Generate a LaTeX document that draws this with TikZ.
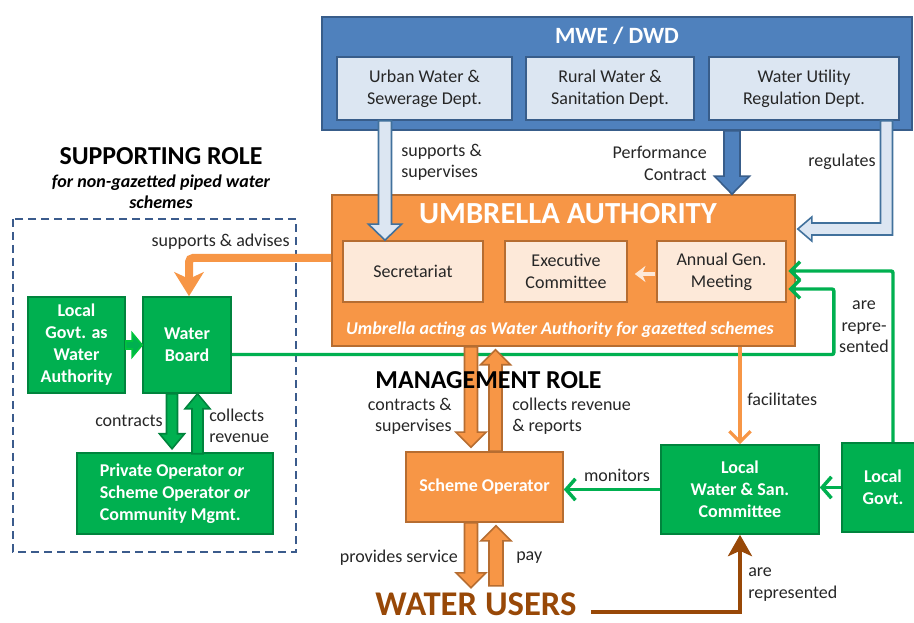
\documentclass[tikz,border=0pt]{standalone}
\usepackage{fontspec}
\setmainfont{Carlito}
\usetikzlibrary{calc,arrows.meta}
\definecolor{mweblue}{HTML}{4F81BD}
\definecolor{mweborder}{HTML}{385D8A}
\definecolor{lightblue}{HTML}{DCE6F2}
\definecolor{hollowborder}{HTML}{41719C}
\definecolor{uaorange}{HTML}{F79646}
\definecolor{uaborder}{HTML}{B66D31}
\definecolor{peach}{HTML}{FDE9D9}
\definecolor{grn}{HTML}{00B050}
\definecolor{grnborder}{HTML}{00843D}
\definecolor{brn}{HTML}{984807}
\definecolor{dashblue}{HTML}{3B5B8C}
\definecolor{txt}{HTML}{262626}
\newcommand\lblfont{\fontsize{13.5}{16}\selectfont}
\newcommand\boxfont{\fontsize{13.5}{16.5}\selectfont}
% block arrow: [style]{from}{to}{half shaft}{half head}{head length}
\newcommand\blockarrow[6][]{%
  \coordinate (bahead) at ($(#3)!#6!(#2)$);
  \draw[#1] ($(#2)!#4!90:(#3)$) -- ($(bahead)!#4!90:(#3)$) -- ($(bahead)!#5!90:(#3)$) -- (#3) -- ($(bahead)!#5!-90:(#3)$) -- ($(bahead)!#4!-90:(#3)$) -- ($(#2)!#4!-90:(#3)$) -- cycle;
}
\begin{document}
\begin{tikzpicture}[x=0.75pt,y=-0.75pt,
  mwebox/.style={draw=mweborder, fill=mweblue, line width=1.2pt, inner sep=0pt},
  dept/.style={draw=mweborder, fill=lightblue, line width=1.2pt, inner sep=0pt, minimum height=47.25pt, font=\boxfont, text=txt, align=center},
  uabox/.style={draw=uaborder, fill=uaorange, line width=1.2pt, inner sep=0pt},
  innerbox/.style={draw=uaborder, fill=peach, line width=1.2pt, inner sep=0pt, minimum height=45.75pt, font=\boxfont, text=txt, align=center},
  gbox/.style={draw=grnborder, fill=grn, line width=1.2pt, inner sep=0pt, text=white, font=\bfseries\boxfont, align=center},
  obox/.style={draw=uaborder, fill=uaorange, line width=1.2pt, inner sep=0pt, text=white, font=\bfseries\boxfont, align=center},
  lbl/.style={text=txt, font=\lblfont, inner sep=0pt, align=center},
  hollowarrow/.style={draw=hollowborder, fill=lightblue, line width=1.2pt, line join=miter},
  bluearrow/.style={draw=mweborder, fill=mweblue, line width=1.2pt},
  orangearrow/.style={draw=uaborder, fill=uaorange, line width=1.2pt},
  greenarrow/.style={draw=grnborder, fill=grn, line width=1.2pt},
  gline/.style={draw=grn, line width=2.6pt, rounded corners=1.5pt},
]
\useasboundingbox (0,0) rectangle (914,623);

% dashed supporting-role frame
\draw[dashblue, line width=1.2pt, dash pattern=on 6pt off 3.75pt] (13,219) rectangle (296,552);

% MWE / DWD
\node[mwebox, minimum width=442.5pt, minimum height=84.75pt] (mwe) at (617,73.5) {};
\node[text=white, font=\bfseries\fontsize{17.5}{20}\selectfont, inner sep=0pt] (mwet) at (617,36) {MWE / DWD};
\node[dept, minimum width=131.25pt] (urban) at (424.5,88.5) {Urban Water \&\\Sewerage Dept.};
\node[dept, minimum width=126pt] (rural) at (610,88.5) {Rural Water \&\\Sanitation Dept.};
\node[dept, minimum width=142.5pt] (wur) at (804,88.5) {Water Utility\\Regulation Dept.};

% Umbrella authority
\node[uabox, minimum width=347.25pt, minimum height=113.25pt] (ua) at (563.5,270.5) {};
\node[text=white, font=\bfseries\fontsize{23}{26}\selectfont, inner sep=0pt] (uat) at (568,214) {UMBRELLA AUTHORITY};
\node[innerbox, minimum width=105pt] (sec) at (413,271.5) {Secretariat};
\node[innerbox, minimum width=91.5pt] (exe) at (566,271.5) {Executive\\Committee};
\node[innerbox, minimum width=96.75pt] (agm) at (721.5,271.5) {Annual Gen.\\Meeting};
\node[text=white, font=\bfseries\itshape\lblfont, inner sep=0pt] (uai) at (560,330) {Umbrella acting as Water Authority for gazetted schemes};

% green / orange boxes
\node[gbox, minimum width=72.75pt, minimum height=72pt] (lgwa) at (76.5,345) {Local\\Govt. as\\Water\\Authority};
\node[gbox, minimum width=66pt, minimum height=72pt] (wb) at (187,345) {Water\\Board};
\node[gbox, minimum width=147pt, minimum height=60.75pt, align=left] (po) at (175,493.5) {Private Operator \textit{or}\\Scheme Operator \textit{or}\\Community Mgmt.};
\node[obox, minimum width=117.75pt, minimum height=52.5pt] (so) at (484.5,487) {Scheme Operator};
\node[gbox, minimum width=118.5pt, minimum height=66.75pt] (lwsc) at (740,489.5) {Local\\Water \& San.\\Committee};
\node[gbox, minimum width=61.5pt, minimum height=66.75pt] (lg) at (883,487.5) {Local\\Govt.};
\node[font=\bfseries\fontsize{26}{30}\selectfont, text=brn, inner sep=0pt] (wu) at (476,604) {WATER USERS};

% ---- connectors ----
% MWE -> Umbrella
\coordinate (h1b) at ($(sec.north)+(-28,0)$);
\coordinate (h1a) at (h1b |- urban.south);
\blockarrow[hollowarrow]{h1a}{h1b}{4.9pt}{12.4pt}{12pt}
\coordinate (p1b) at ($(ua.north)+(168.5,0)$);
\coordinate (p1a) at (p1b |- mwe.south);
\blockarrow[bluearrow]{p1a}{p1b}{6pt}{13.1pt}{13.5pt}
\coordinate (regS) at ($(wur.south)+(82.5,0)$);
\coordinate (regE) at ($(ua.east)+(2,-41.5)$);
\draw[hollowarrow] let \p1=(regS), \p2=(regE) in
  (\x1-4.5pt,\y1) -- (\x1-4.5pt,\y2+4.5pt) -- (\x2+10.5pt,\y2+4.5pt) -- (\x2+10.5pt,\y2+9pt) -- (\x2,\y2)
  -- (\x2+10.5pt,\y2-9pt) -- (\x2+10.5pt,\y2-4.5pt) -- (\x1+4.5pt,\y2-4.5pt) -- (\x1+4.5pt,\y1) -- cycle;

% inside umbrella
\draw[peach, line width=3pt, -{Stealth[length=8pt,width=12pt,inset=2.5pt]}] ($(agm.west)+(-1,2.5)$) -- ($(exe.east)+(7,2.5)$);

% green representation lines
\draw[gline, -{Straight Barb[length=7pt,width=14pt]}] ($(wb.east)+(0,9.5)$) -| ($(agm.east)+(47,17.5)$) -- ($(agm.east)+(1.5,17.5)$);
\draw[gline, -{Straight Barb[length=7pt,width=14pt]}] ($(lg.north)+(10,0)$) |- ($(agm.east)+(1.5,-0.5)$);
\draw[draw=grn, line width=2.6pt, -{Straight Barb[length=7pt,width=16pt]}] (lwsc.west) -- (lwsc.west -| so.east);
\draw[draw=grn, line width=2.6pt, -{Straight Barb[length=7pt,width=16pt]}] (lg.west) -- (lg.west -| lwsc.east);

% supports & advises
\draw[uaorange, line width=6pt, rounded corners=3pt, -{Stealth[length=18pt,width=22pt,inset=5pt]}] ($(ua.west)+(0,-12.5)$) -| ($(wb.north)+(2,0)$);

% left block arrows
\blockarrow[greenarrow, draw=green!25!grn]{lgwa.east}{wb.west}{3pt}{9pt}{7.5pt}
\coordinate (c1a) at ($(wb.south)+(-15,0)$);
\coordinate (c1b) at ($(wb.south)+(-15,55)$);
\blockarrow[greenarrow]{c1a}{c1b}{4.1pt}{9.4pt}{11.25pt}
\coordinate (c2a) at ($(wb.south)+(10.5,60)$);
\coordinate (c2b) at ($(wb.south)+(10.5,0)$);
\blockarrow[greenarrow]{c2a}{c2b}{4.1pt}{9.4pt}{11.25pt}

% management arrows
\coordinate (m1b) at ($(so.north)+(-13.5,-4)$);
\coordinate (m1a) at (m1b |- ua.south);
\blockarrow[orangearrow]{m1a}{m1b}{4.9pt}{11.25pt}{11.25pt}
\coordinate (m2a) at ($(so.north)+(11,0)$);
\coordinate (m2b) at ($(m2a |- ua.south)+(0,3)$);
\blockarrow[orangearrow]{m2a}{m2b}{4.9pt}{11.25pt}{11.25pt}
\coordinate (w1a) at ($(so.south)+(-13.5,0)$);
\coordinate (w1b) at ($(so.south)+(-13.5,65)$);
\blockarrow[orangearrow]{w1a}{w1b}{4.9pt}{11.25pt}{11.25pt}
\coordinate (w2a) at ($(so.south)+(11.5,63)$);
\coordinate (w2b) at ($(so.south)+(11.5,3)$);
\blockarrow[orangearrow]{w2a}{w2b}{5.25pt}{11.25pt}{11.25pt}

% facilitates
\draw[uaorange, line width=2.4pt, -{Straight Barb[length=8pt,width=16pt]}] (ua.south -| lwsc.north) -- (lwsc.north);
% water users are represented
\draw[brn, line width=3pt, -{Stealth[length=16pt,width=18pt,inset=4pt]}] ([shift={(14,8)}]wu.east) -| (lwsc.south);

% ---- labels ----
\node[lbl, anchor=west, align=left] (lsup) at (401,162.5) {supports \&\\supervises};
\node[lbl, anchor=east, align=right] (lperf) at (707,163.5) {Performance\\Contract};
\node[lbl] (lreg) at (842,162) {regulates};
\node[lbl, anchor=east] (ladv) at (290,242) {supports \& advises};
\node[lbl] (lrep) at (864,327) {are\\repre-\\sented};
\node[lbl, anchor=east, align=right] (lcon) at (163,421) {contracts};
\node[lbl, anchor=west, align=left] (lcol) at (209,426) {collects\\revenue};
\node[lbl, anchor=east, align=right] (lcs) at (452,416.5) {contracts \&\\supervises};
\node[lbl, anchor=west, align=left] (lcr) at (512,416.5) {collects revenue\\\& reports};
\node[lbl, anchor=west] (lfac) at (747,399) {facilitates};
\node[lbl] (lmon) at (617,475) {monitors};
\node[lbl, anchor=east] (lprov) at (458,558) {provides service};
\node[lbl, anchor=west] (lpay) at (516,558) {pay};
\node[lbl, anchor=west, align=left] (lare) at (748,584.5) {are\\represented};

% headings
\node[font=\bfseries\fontsize{19.4}{23}\selectfont, inner sep=0pt] (sr) at (161,156) {SUPPORTING ROLE};
\node[font=\bfseries\itshape\fontsize{13.5}{16}\selectfont, align=center, inner sep=0pt] (srs) at (161,192) {for non-gazetted piped water\\schemes};
\node[font=\bfseries\fontsize{19.4}{23}\selectfont, inner sep=0pt] (mr) at (488.5,380) {MANAGEMENT ROLE};
\end{tikzpicture}
\end{document}
